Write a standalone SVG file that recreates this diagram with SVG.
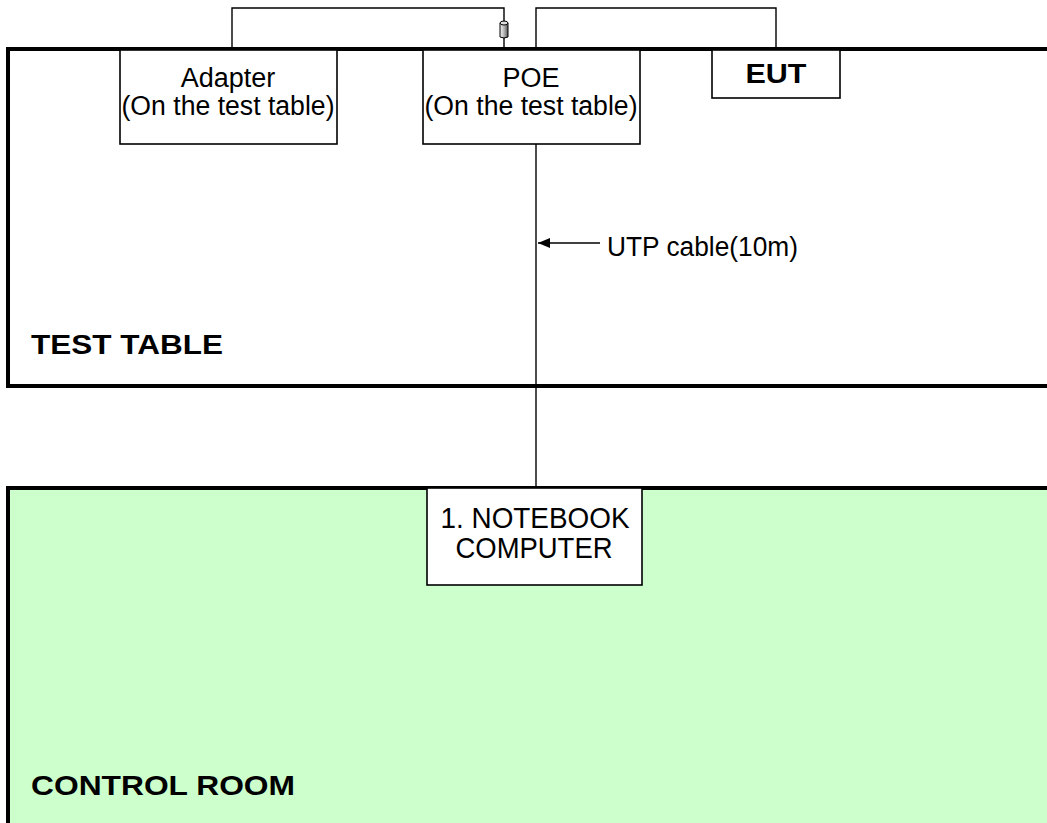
<svg xmlns="http://www.w3.org/2000/svg" width="1047" height="823" viewBox="0 0 1047 823">
<style>
.room{stroke:#000;stroke-width:4}
.box{fill:#fff;stroke:#000;stroke-width:1.6}
.wire{fill:none;stroke:#000;stroke-width:1.4}
.t{font-family:"Liberation Sans",Arial,sans-serif;font-size:27px;fill:#000;text-anchor:middle}
.n{font-size:29px}
.b{font-family:"Liberation Sans",Arial,sans-serif;font-size:28px;font-weight:bold;fill:#000}
</style>
<defs>
<linearGradient id="cyl" x1="0" y1="0" x2="1" y2="0">
<stop offset="0" stop-color="#f4f4f4"/>
<stop offset="0.5" stop-color="#b8b8b8"/>
<stop offset="1" stop-color="#555"/>
</linearGradient>
<marker id="arr" markerWidth="12" markerHeight="10" refX="12" refY="5" orient="auto" markerUnits="userSpaceOnUse">
<path d="M0,0 L12,5 L0,10 Z" fill="#000"/>
</marker>
</defs>
<rect width="1047" height="823" fill="#fff"/>
<g id="test-table">
<rect class="room" x="8" y="49" width="1060" height="337" fill="#fff"/>
<text class="b" x="31" y="354" textLength="192" lengthAdjust="spacingAndGlyphs">TEST TABLE</text>
</g>
<g id="control-room">
<rect class="room" x="8" y="488" width="1060" height="360" fill="#ccffcc"/>
<text class="b" x="31" y="795" textLength="264" lengthAdjust="spacingAndGlyphs">CONTROL ROOM</text>
</g>
<g id="connectors">
<polyline class="wire" points="232,49 232,8 504,8 504,49"/>
<polyline class="wire" points="536,49 536,8 776,8 776,49"/>
<line class="wire" x1="536" y1="144" x2="536" y2="488"/>
<line class="wire" x1="600" y1="243" x2="538" y2="243" marker-end="url(#arr)"/>
<text class="t" x="607" y="256" style="text-anchor:start" textLength="191" lengthAdjust="spacingAndGlyphs">UTP cable(10m)</text>
</g>
<g id="plug">
<path d="M500,23 L500,37 Q504,39 508,37 L508,23 Z" fill="url(#cyl)" stroke="#000" stroke-width="1"/>
<ellipse cx="504" cy="23" rx="4" ry="2" fill="#ddd" stroke="#000" stroke-width="1"/>
</g>
<g id="adapter">
<rect class="box" x="120" y="50" width="217" height="94"/>
<text class="t" x="228" y="87">Adapter</text>
<text class="t" x="228" y="115" textLength="213" lengthAdjust="spacingAndGlyphs">(On the test table)</text>
</g>
<g id="poe">
<rect class="box" x="423" y="50" width="217" height="94"/>
<text class="t" x="531" y="87">POE</text>
<text class="t" x="531" y="115" textLength="213" lengthAdjust="spacingAndGlyphs">(On the test table)</text>
</g>
<g id="eut">
<rect class="box" x="712" y="50" width="128" height="48"/>
<text class="b" x="776" y="83" style="text-anchor:middle" textLength="61" lengthAdjust="spacingAndGlyphs">EUT</text>
</g>
<g id="notebook">
<rect class="box" x="427" y="488" width="215" height="97"/>
<text class="t n" x="535" y="528" textLength="189" lengthAdjust="spacingAndGlyphs">1. NOTEBOOK</text>
<text class="t n" x="534" y="558" textLength="157" lengthAdjust="spacingAndGlyphs">COMPUTER</text>
</g>
</svg>
